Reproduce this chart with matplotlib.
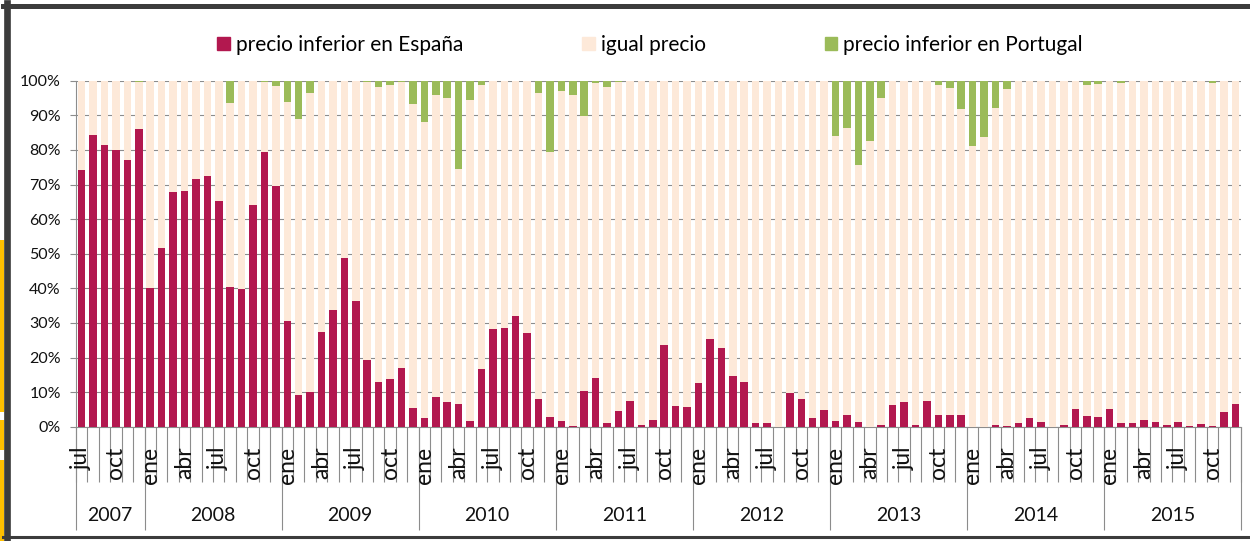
import numpy as np
import matplotlib
matplotlib.use("Agg")
import matplotlib.pyplot as plt
from matplotlib.patches import Patch, Rectangle
from matplotlib.lines import Line2D

plt.rcParams['font.family'] = ['Lato', 'DejaVu Sans']

# monthly share of stations (%), jul 2007 - dic 2015
espana = np.array(
    [74.2, 84.2, 81.5, 80.0, 77.1, 86.0]                                        # 2007
    + [40.2, 51.7, 67.8, 68.2, 71.6, 72.5, 65.3, 40.4, 39.9, 64.1, 79.5, 69.6]  # 2008
    + [30.5, 9.3, 10.1, 27.5, 33.7, 48.7, 36.2, 19.4, 12.9, 13.9, 16.9, 5.5]    # 2009
    + [2.4, 8.6, 7.2, 6.5, 1.6, 16.6, 28.3, 28.5, 32.1, 27.0, 8.1, 2.8]         # 2010
    + [1.6, 0.2, 10.4, 14.1, 1.1, 4.5, 7.4, 0.5, 2.0, 23.6, 6.0, 5.6]           # 2011
    + [12.5, 25.4, 22.7, 14.7, 12.9, 1.1, 1.0, 0.0, 9.7, 7.9, 2.5, 4.8]         # 2012
    + [1.6, 3.4, 1.4, 0.0, 0.5, 6.3, 7.1, 0.5, 7.4, 3.5, 3.5, 3.4]              # 2013
    + [0.0, 0.0, 0.5, 0.2, 1.1, 2.5, 1.3, 0.0, 0.6, 5.0, 3.0, 2.8]              # 2014
    + [5.0, 1.1, 1.2, 1.8, 1.5, 0.6, 1.3, 0.1, 0.8, 0.2, 4.3, 6.5]              # 2015
)
portugal = np.array(
    [0, 0, 0, 0, 0, 0.3]
    + [0, 0, 0, 0, 0, 0, 0, 6.5, 0, 0, 0.3, 1.5]
    + [6.2, 11.0, 3.5, 0.2, 0, 0, 0, 0.3, 1.9, 1.3, 0.3, 6.6]
    + [11.9, 4.2, 4.9, 25.6, 5.7, 1.2, 0.2, 0, 0.2, 0, 3.5, 20.5]
    + [2.9, 4.0, 10.3, 0.8, 1.7, 0.3, 0, 0, 0, 0.2, 0.1, 0]
    + [0, 0, 0, 0, 0, 0, 0, 0, 0, 0, 0, 0]
    + [16.0, 13.8, 24.3, 17.4, 5.0, 0.2, 0, 0, 0.2, 1.2, 2.0, 8.1]
    + [19.0, 16.4, 7.9, 2.4, 0, 0, 0, 0, 0, 0, 1.2, 0.9]
    + [0, 0.8, 0, 0, 0, 0, 0, 0, 0, 0.6, 0, 0]
)
igual = 100 - espana - portugal

meses = ['ene', 'feb', 'mar', 'abr', 'may', 'jun',
         'jul', 'ago', 'sep', 'oct', 'nov', 'dic']
years = [2007, 2008, 2009, 2010, 2011, 2012, 2013, 2014, 2015]
month_labels = meses[6:] + meses * 8

c_es = '#B2184F'
c_eq = '#FDE9D9'
c_pt = '#9BBB59'
grey = '#8C8C8C'

fig = plt.figure(figsize=(12.5, 5.41), dpi=100)
ax = fig.add_axes([76 / 1250, 1 - 426.7 / 541, 1165 / 1250, 346 / 541])

x = np.arange(len(espana))
w = 0.66
ax.bar(x, espana, w, color=c_es, zorder=3)
ax.bar(x, igual, w, bottom=espana, color=c_eq, zorder=3)
ax.bar(x, portugal, w, bottom=espana + igual, color=c_pt, zorder=3)

ax.set_xlim(-0.5, len(x) - 0.5)
ax.set_ylim(0, 100)
ax.set_yticks(np.arange(0, 101, 10))
ax.set_yticklabels([f'{v}%' for v in range(0, 101, 10)], fontsize=11.5, color='#111111')
ax.tick_params(axis='y', length=4.5, color=grey, width=0.8, pad=6.5)
ax.set_xticks([])
ax.grid(axis='y', color=grey, linewidth=0.8, zorder=0)
ax.set_axisbelow(True)
for s in ['top', 'right']:
    ax.spines[s].set_visible(False)
for s in ['left', 'bottom']:
    ax.spines[s].set_color(grey)
    ax.spines[s].set_linewidth(0.8)

# category axis: month separators, month labels, year separators, years
tr = ax.get_xaxis_transform()
ax.vlines(np.arange(len(x) + 1) - 0.5, -0.159, 0, transform=tr, color=grey,
          linewidth=0.8, clip_on=False)
starts = [0] + [6 + 12 * i for i in range(len(years) - 1)] + [len(x)]
ax.vlines(np.array(starts) - 0.5, -0.298, 0, transform=tr, color=grey,
          linewidth=0.8, clip_on=False)
for i, lab in enumerate(month_labels):
    if i % 3 == 0:
        ax.text(i, -0.058, lab, transform=tr, rotation=90, ha='center', va='top',
                fontsize=16.5, color='#111111')
for k, yr in enumerate(years):
    ax.text((starts[k] + starts[k + 1] - 1) / 2, -0.256, str(yr), transform=tr,
            ha='center', va='center', fontsize=14, color='#111111')

handles = [Patch(color=c_es), Patch(color=c_eq), Patch(color=c_pt)]
fig.legend(handles, ['precio inferior en España', 'igual precio',
                     'precio inferior en Portugal'],
           loc='center', bbox_to_anchor=(650 / 1250, 1 - 45 / 541), ncol=3,
           frameon=False, fontsize=15, handlelength=0.6, handleheight=0.6,
           handletextpad=0.3, columnspacing=5.7)

# frame of the original screenshot
fig.add_artist(Line2D([3 / 1250, 1], [1 - 5.5 / 541] * 2, color='#3C3C3C', linewidth=3.6))
fig.add_artist(Line2D([6.5 / 1250] * 2, [0, 1 - 3 / 541], color='#3C3C3C', linewidth=4.8))
fig.add_artist(Line2D([3 / 1250, 1], [1 - 537 / 541] * 2, color='#3C3C3C', linewidth=2.2))
for y0, y1 in [(240, 412), (420, 450), (460, 541)]:
    fig.add_artist(Rectangle((0, 1 - y1 / 541), 3.5 / 1250, (y1 - y0) / 541,
                             transform=fig.transFigure, color='#FFC000', linewidth=0))

fig.savefig('out.png', dpi=100)
